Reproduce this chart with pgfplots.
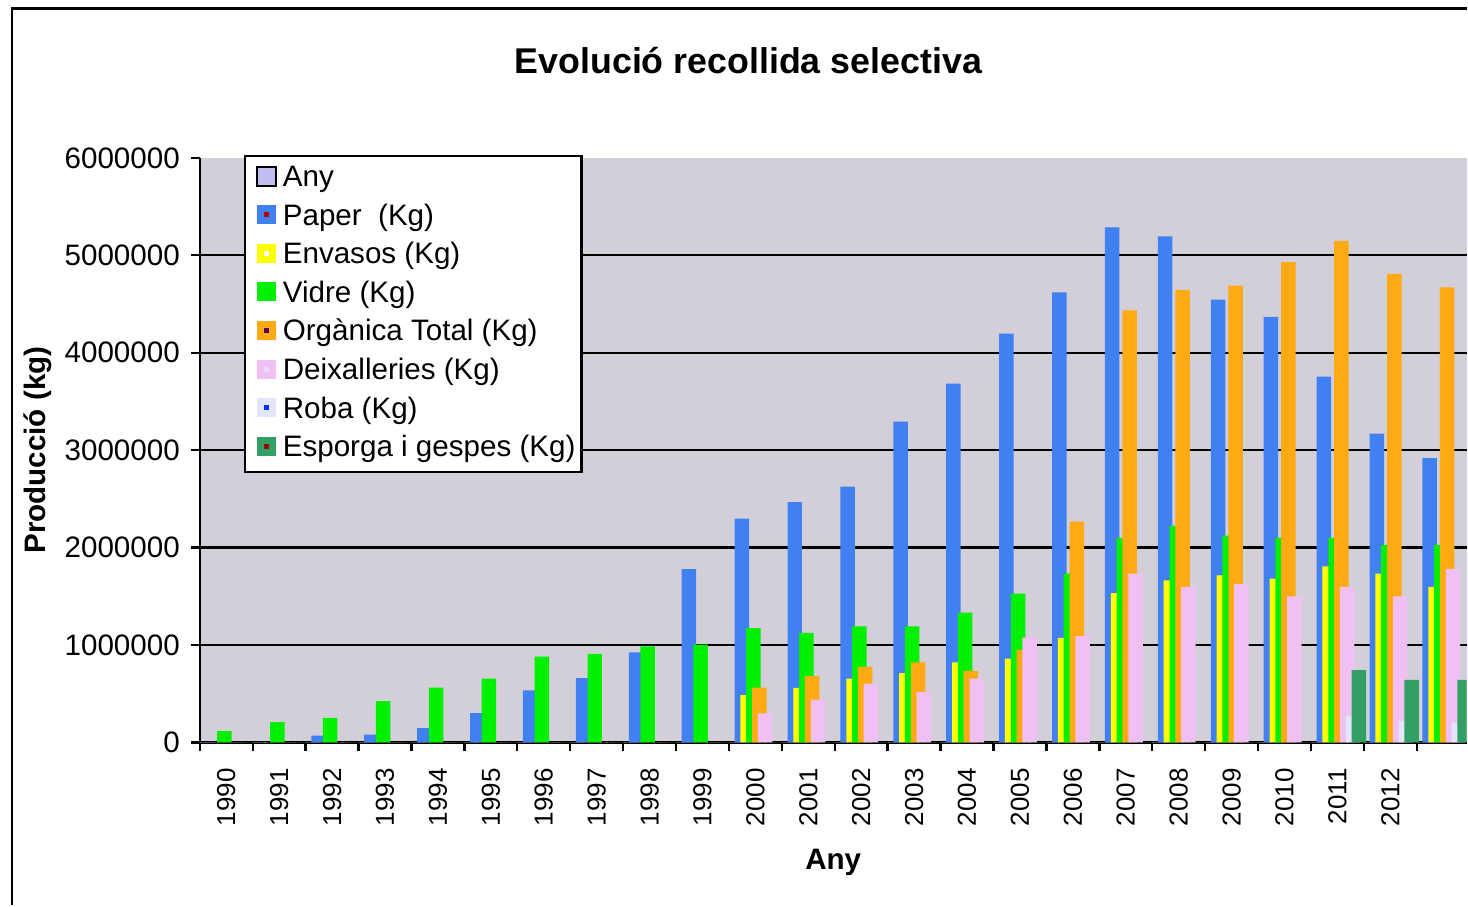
\documentclass[border=0pt]{standalone}
\usepackage{pgfplots}
\pgfplotsset{compat=1.18}
\usepackage{pgfplotstable}
\usepackage{fontspec}
\setmainfont{Liberation Sans}
\definecolor{bgc}{RGB}{210,207,216}
\definecolor{anyc}{RGB}{190,190,240}
\definecolor{paperc}{RGB}{64,128,240}
\definecolor{envc}{RGB}{255,255,0}
\definecolor{vidrec}{RGB}{0,240,0}
\definecolor{orgc}{RGB}{255,170,20}
\definecolor{deixc}{RGB}{240,192,245}
\definecolor{robac}{RGB}{228,228,252}
\definecolor{espc}{RGB}{50,160,100}
\pgfplotstableread{
x Any Paper Env Vidre Org Deix Roba Esp
0.5 1990 0 0 114000 0 0 0 0
1.5 1991 0 0 207000 0 0 0 0
2.5 1992 69000 0 252000 0 0 0 0
3.5 1993 79000 0 424000 0 0 0 0
4.5 1994 145000 0 562000 0 0 0 0
5.5 1995 300000 0 655000 0 0 0 0
6.5 1996 534000 0 879000 0 0 0 0
7.5 1997 659000 0 907000 0 0 0 0
8.5 1998 924000 0 986000 0 0 0 0
9.5 1999 1779000 0 1003000 0 0 0 0
10.5 2000 2297000 486000 1172000 562000 297000 0 0
11.5 2001 2466000 559000 1124000 683000 438000 0 0
12.5 2002 2626000 655000 1190000 776000 603000 0 0
13.5 2003 3292000 710000 1190000 821000 517000 0 0
14.5 2004 3682000 821000 1331000 734000 655000 0 0
15.5 2005 4196000 860000 1528000 950000 1075000 0 0
16.5 2006 4618000 1072000 1733000 2265000 1094000 0 0
17.5 2007 5286000 1531000 2100000 4435000 1733000 0 0
18.5 2008 5195000 1663000 2221000 4644000 1597000 0 0
19.5 2009 4545000 1714000 2122000 4688000 1623000 0 0
20.5 2010 4369000 1681000 2100000 4930000 1498000 0 0
21.5 2011 3755000 1806000 2100000 5147000 1597000 275000 742000
22.5 2012 3168000 1733000 2026000 4809000 1498000 220000 642000
23.5 2013 2918000 1597000 2026000 4670000 1780000 200000 642000
}\datatable
\pgfplotsset{
  sw/.style 2 args={legend image code/.code={\path[fill=none, draw=none] (0pt,-3.3pt) rectangle (15.5pt,6.2pt); \path[#1] (6pt,-3.3pt) rectangle (15.5pt,6.2pt); \fill[#2] (9.5pt,0.2pt) rectangle (12pt,2.7pt);}}
}
\newcommand{\fs}{\fontsize{14.8}{17}\selectfont}
\begin{document}
\begin{tikzpicture}
\fill[white] (0,0) rectangle (734pt,453pt);
\draw[line width=1.3pt] (6pt,0pt) -- (6pt,448.75pt) -- (734pt,448.75pt);
\begin{axis}[
  at={(100pt,81.5pt)}, anchor=south west,
  scale only axis, width=634pt, height=292.5pt,
  xmin=0, xmax=23.943, ymin=0, ymax=6000000,
  axis background/.style={fill=bgc},
  axis x line=bottom, axis y line=left,
  axis line style={-, line width=1.2pt, black},
  ybar, bar width=7.25pt,
  tick align=outside,
  xtick={0,1,...,23}, xticklabels={},
  major tick length=4.5pt,
  tick style={line width=1.2pt, black},
  extra x ticks={0.5,1.5,...,22.5},
  extra x tick labels={1990,1991,1992,1993,1994,1995,1996,1997,1998,1999,2000,2001,2002,2003,2004,2005,2006,2007,2008,2009,2010,2011,2012},
  extra x tick style={major tick length=0pt, tick style={draw=none},
    xticklabel style={yshift=-9.5pt, rotate=90, anchor=east, font=\fontsize{13}{15}\selectfont}},
  ytick={0,1000000,...,6000000},
  scaled y ticks=false,
  yticklabel style={/pgf/number format/fixed, /pgf/number format/1000 sep={}, /pgf/number format/assume math mode=true, font=\fs, xshift=-2pt},
  extra y ticks={1000000,2000000,3000000,4000000,5000000},
  extra y tick labels={},
  extra y tick style={grid=major, major tick length=0pt},
  major grid style={line width=1.2pt, black},
  xlabel={Any}, ylabel={Producció (kg)},
  xlabel style={at={(axis description cs:0.5,-0.205)}, anchor=center, font=\bfseries\fs},
  ylabel style={at={(axis description cs:-0.1282,0.5)}, anchor=center, font=\bfseries\fs},
  legend cell align=left,
  legend style={at={(axis description cs:0.0347,1.005)}, anchor=north west,
    fill=white, draw=black, line width=1.2pt, font=\fs,
    inner xsep=0pt, inner ysep=3.75pt, row sep=3.8pt,
    nodes={inner xsep=3pt, inner ysep=1pt, text height=10.5pt, text depth=3pt}},
]
\addplot[fill=anyc, draw=none, bar shift=-9.7pt, sw={fill=anyc, draw=black, line width=0.9pt}{anyc}] table[x=x,y=Any]{\datatable};
\addlegendentry{Any}
\addplot[fill=paperc, draw=none, bar shift=-6.79pt, sw={fill=paperc}{red!70!black}] table[x=x,y=Paper]{\datatable};
\addlegendentry{Paper\ \ (Kg)}
\addplot[fill=envc, draw=none, bar shift=-3.87pt, sw={fill=envc}{white}] table[x=x,y=Env]{\datatable};
\addlegendentry{Envasos (Kg)}
\addplot[fill=vidrec, draw=none, bar shift=-0.96pt, sw={fill=vidrec}{vidrec}] table[x=x,y=Vidre]{\datatable};
\addlegendentry{Vidre (Kg)}
\addplot[fill=orgc, draw=none, bar shift=1.96pt, sw={fill=orgc}{violet!70!black}] table[x=x,y=Org]{\datatable};
\addlegendentry{Orgànica Total (Kg)}
\addplot[fill=deixc, draw=none, bar shift=4.87pt, sw={fill=deixc}{deixc!70!blue!30}] table[x=x,y=Deix]{\datatable};
\addlegendentry{Deixalleries (Kg)}
\addplot[fill=robac, draw=none, bar shift=7.79pt, sw={fill=robac}{blue!80!cyan}] table[x=x,y=Roba]{\datatable};
\addlegendentry{Roba (Kg)}
\addplot[fill=espc, draw=none, bar shift=10.7pt, sw={fill=espc}{red!60!black}] table[x=x,y=Esp]{\datatable};
\addlegendentry{Esporga i gespes (Kg)}
\end{axis}
\node[font=\bfseries\fontsize{17.9}{21}\selectfont] at (374.5pt,422.5pt) {Evolució recollida selectiva};
\end{tikzpicture}
\end{document}
